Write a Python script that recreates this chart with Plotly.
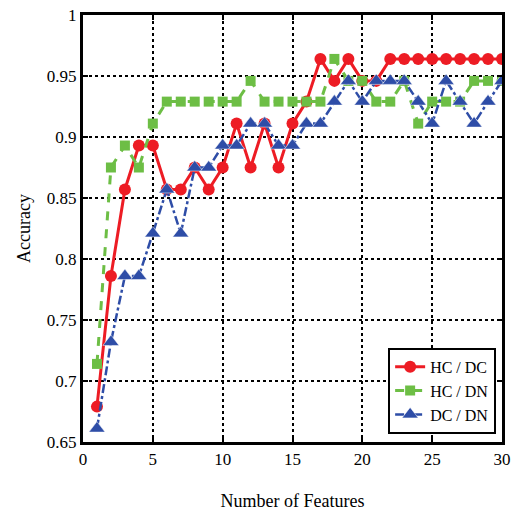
import plotly.graph_objects as go

features = list(range(1, 31))
hc_dc = [0.679, 0.786, 0.857, 0.893, 0.893, 0.857, 0.857, 0.875, 0.857, 0.875,
         0.911, 0.875, 0.911, 0.875, 0.911, 0.929, 0.964, 0.946, 0.964, 0.946,
         0.946, 0.964, 0.964, 0.964, 0.964, 0.964, 0.964, 0.964, 0.964, 0.964]
hc_dn = [0.714, 0.875, 0.893, 0.875, 0.911, 0.929, 0.929, 0.929, 0.929, 0.929,
         0.929, 0.946, 0.929, 0.929, 0.929, 0.929, 0.929, 0.964, 0.946, 0.946,
         0.929, 0.929, 0.946, 0.911, 0.929, 0.929, 0.929, 0.946, 0.946, 0.946]
dc_dn = [0.661, 0.732, 0.786, 0.786, 0.821, 0.857, 0.821, 0.875, 0.875, 0.893,
         0.893, 0.911, 0.911, 0.893, 0.893, 0.911, 0.911, 0.929, 0.946, 0.929,
         0.946, 0.946, 0.946, 0.929, 0.911, 0.946, 0.929, 0.911, 0.929, 0.946]

x_ticks = [0, 5, 10, 15, 20, 25, 30]
y_ticks = [0.65, 0.7, 0.75, 0.8, 0.85, 0.9, 0.95, 1]
y_labels = ["0.65", "0.7", "0.75", "0.8", "0.85", "0.9", "0.95", "1"]

RED = "#ED1C24"
GREEN = "#6DBE45"
BLUE = "#2E4DA7"
FONT = "Liberation Serif"

fig = go.Figure()
fig.add_trace(go.Scatter(x=features, y=hc_dc, name="HC / DC", mode="lines+markers",
                         line=dict(color=RED, width=3),
                         marker=dict(symbol="circle", size=12, color=RED)))
fig.add_trace(go.Scatter(x=features, y=hc_dn, name="HC / DN", mode="lines+markers",
                         line=dict(color=GREEN, width=3, dash="dash"),
                         marker=dict(symbol="square", size=10, color=GREEN)))
fig.add_trace(go.Scatter(x=features, y=dc_dn, name="DC / DN", mode="lines+markers",
                         line=dict(color=BLUE, width=2.5, dash="dashdot"),
                         marker=dict(symbol="triangle-up", size=14, color=BLUE,
                                     line=dict(color="white", width=0.5))))

axis_common = dict(showline=True, linecolor="black", linewidth=3, mirror="ticks",
                   ticks="inside", ticklen=5, tickwidth=2, tickcolor="black",
                   showgrid=True, gridcolor="black", gridwidth=1.5, griddash="dot",
                   zeroline=False, automargin=False, ticklabeloverflow="allow",
                   tickfont=dict(family=FONT, size=17, color="black"))

fig.update_xaxes(range=[0, 30], tickvals=x_ticks,
                 title=dict(text="Number of Features", font=dict(family=FONT, size=18, color="black"),
                            standoff=26),
                 **axis_common)
fig.update_yaxes(range=[0.65, 1], tickvals=y_ticks, ticktext=y_labels,
                 title=dict(text="Accuracy", font=dict(family=FONT, size=18, color="black"),
                            standoff=12),
                 **axis_common)

fig.update_layout(
    width=512, height=513,
    margin=dict(l=83, r=10, t=15, b=71),
    plot_bgcolor="white", paper_bgcolor="white",
    font=dict(family=FONT, color="black"),
    legend=dict(x=0.986, y=0.019, xanchor="right", yanchor="bottom",
                bgcolor="white", bordercolor="black", borderwidth=2,
                font=dict(family=FONT, size=16, color="black"),
                tracegroupgap=2),
)

fig.write_html("out.html")
